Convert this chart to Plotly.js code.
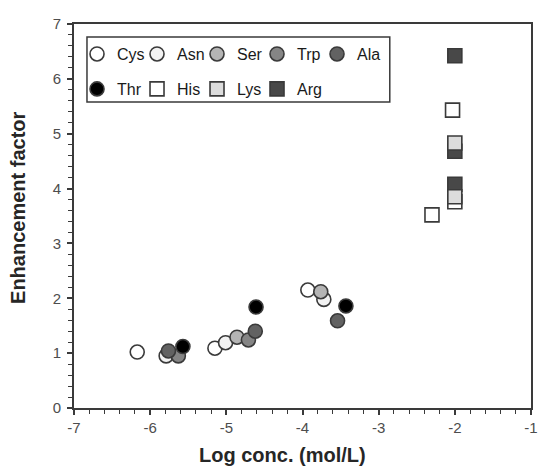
<!DOCTYPE html>
<html>
<head>
<meta charset="utf-8">
<script src="https://cdn.plot.ly/plotly-3.0.1.min.js"></script>
<style>html,body{margin:0;padding:0;background:#fff;}#chart{width:538px;height:468px;}</style>
</head>
<body>
<div id="chart"></div>
<script>
// Data
const cysX = [-6.17, -5.15, -3.93];
const cysY = [1.02, 1.09, 2.15];
const asnX = [-5.79, -5.01, -3.72];
const asnY = [0.95, 1.19, 1.98];
const serX = [-4.86, -3.76];
const serY = [1.29, 2.12];
const trpX = [-5.63, -4.71];
const trpY = [0.95, 1.24];
const alaX = [-5.76, -4.62, -3.54];
const alaY = [1.04, 1.40, 1.59];
const thrX = [-5.57, -4.61, -3.43];
const thrY = [1.12, 1.84, 1.86];
const hisX = [-2.30, -2.00, -2.03];
const hisY = [3.52, 3.76, 5.43];
const argX = [-2.00, -2.00, -2.00];
const argY = [4.08, 4.68, 6.42];
const lysX = [-2.00, -2.00];
const lysY = [3.85, 4.83];

const xTicks = [-7, -6, -5, -4, -3, -2, -1];
const yTicks = [0, 1, 2, 3, 4, 5, 6, 7];
const xTitle = 'Log conc. (mol/L)';
const yTitle = 'Enhancement factor';

const edge = '#3a3a3a';
const FONT = 'Liberation Sans, Arial, sans-serif';
function mk(name, x, y, symbol, fill, legend, rank, lw) {
  const t = {
    type: 'scatter', mode: 'markers', name: name, x: x, y: y,
    legend: legend, legendrank: rank,
    marker: {symbol: symbol, size: 14, color: fill, line: {color: edge, width: 1.6}},
    hoverinfo: 'x+y+name'
  };
  if (lw) t.legendwidth = lw;
  return t;
}

const data = [
  mk('Cys', cysX, cysY, 'circle', '#ffffff', 'legend', 1),
  mk('Asn', asnX, asnY, 'circle', '#f2f2f2', 'legend', 2),
  mk('Ser', serX, serY, 'circle', '#b4b4b4', 'legend', 3),
  mk('Trp', trpX, trpY, 'circle', '#858585', 'legend', 4),
  mk('Ala', alaX, alaY, 'circle', '#626262', 'legend', 5, 30),
  mk('Thr', thrX, thrY, 'circle', '#000000', 'legend2', 1),
  mk('His', hisX, hisY, 'square', '#ffffff', 'legend2', 2),
  mk('Arg', argX, argY, 'square', '#484848', 'legend2', 4, 32),
  mk('Lys', lysX, lysY, 'square', '#dcdcdc', 'legend2', 3)
];

const legendCommon = {
  orientation: 'h', xref: 'paper', yref: 'paper', xanchor: 'left', yanchor: 'top',
  bgcolor: 'rgba(0,0,0,0)', borderwidth: 0, indentation: 0, itemwidth: 30,
  entrywidth: 15, entrywidthmode: 'pixels', traceorder: 'normal',
  font: {family: FONT, size: 16, color: '#1a1a1a'}
};

const axisCommon = {
  showgrid: false, zeroline: false, showline: true, linecolor: edge, linewidth: 2,
  mirror: true, ticks: 'outside', ticklen: 5, tickwidth: 1.5, tickcolor: edge,
  ticklabeloverflow: 'allow',
  tickfont: {family: FONT, size: 15, color: '#4d4d4d'},
  minor: {dtick: 0.2, ticks: 'outside', ticklen: 4, tickwidth: 1.2, tickcolor: edge, showgrid: false}
};

const layout = {
  width: 538, height: 468,
  margin: {l: 74, r: 7, t: 24, b: 60, autoexpand: false},
  paper_bgcolor: '#ffffff', plot_bgcolor: '#ffffff',
  showlegend: true,
  xaxis: Object.assign({}, axisCommon, {
    range: [-7, -1], tickvals: xTicks, ticktext: xTicks.map(String)
  }),
  yaxis: Object.assign({}, axisCommon, {
    range: [0, 7], tickvals: yTicks, ticktext: yTicks.map(String), ticklabelstandoff: 3
  }),
  legend: Object.assign({}, legendCommon, {x: 0.0066, y: 0.966}),
  legend2: Object.assign({}, legendCommon, {x: 0.0066, y: 0.875}),
  annotations: [
    {text: '<b>' + xTitle + '</b>', xref: 'paper', yref: 'paper', x: 0.457, y: -0.122,
     xanchor: 'center', yanchor: 'middle', showarrow: false,
     font: {family: FONT, size: 20, color: '#262626'}},
    {text: '<b>' + yTitle + '</b>', xref: 'paper', yref: 'paper', x: -0.1225, y: 0.521,
     xanchor: 'center', yanchor: 'middle', showarrow: false, textangle: -90,
     font: {family: FONT, size: 20, color: '#262626'}}
  ],
  shapes: [{
    type: 'rect', xref: 'paper', yref: 'paper',
    x0: 0.0284, x1: 0.691, y0: 0.797, y1: 0.966,
    line: {color: edge, width: 1.5}, fillcolor: 'rgba(0,0,0,0)', layer: 'above'
  }]
};

Plotly.newPlot('chart', data, layout, {displayModeBar: false, responsive: false});
</script>
</body>
</html>
